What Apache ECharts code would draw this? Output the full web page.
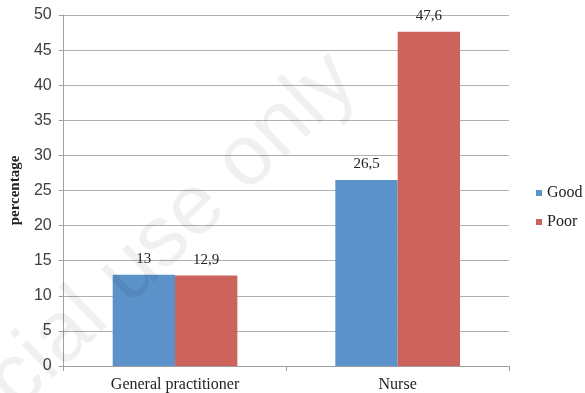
<!DOCTYPE html>
<html>
<head>
<meta charset="utf-8">
<script src="https://cdn.jsdelivr.net/npm/echarts@6/dist/echarts.min.js"></script>
<style>
  html, body { margin: 0; padding: 0; background: #fff; }
  #chart { width: 585px; height: 393px; }
</style>
</head>
<body>
<div id="chart"></div>
<script>
// Share of respondents by professional consulted, split by rating
const categories = ['General practitioner', 'Nurse'];
const goodValues = [13, 26.5];
const poorValues = [12.9, 47.6];
const seriesNames = ['Good', 'Poor'];

const serif = '"Liberation Serif", "DejaVu Serif", serif';
const sans = '"Liberation Sans", "Open Sans", sans-serif';

// Decimal comma for data labels
const fmt = p => String(p.value).replace('.', ',');

const chart = echarts.init(document.getElementById('chart'), null, { renderer: 'canvas' });

const labelStyle = {
  show: true,
  position: 'top',
  distance: 8,
  formatter: fmt,
  fontFamily: serif,
  fontSize: 15,
  color: '#222'
};

chart.setOption({
  animation: false,
  backgroundColor: '#fff',
  grid: { left: 61, right: 76, top: 15, bottom: 27, containLabel: false },
  legend: {
    data: seriesNames,
    orient: 'vertical',
    left: 531,
    top: 180,
    icon: 'rect',
    itemWidth: 6,
    itemHeight: 6,
    itemGap: 13,
    itemStyle: { borderWidth: 0 },
    textStyle: { fontFamily: serif, fontSize: 16, color: '#222' }
  },
  xAxis: {
    type: 'category',
    data: categories,
    axisLine: { lineStyle: { color: '#a0a0a0' } },
    axisTick: { show: true, length: 5, lineStyle: { color: '#a0a0a0' } },
    axisLabel: { fontFamily: serif, fontSize: 16, color: '#222', margin: 11 }
  },
  yAxis: {
    type: 'value',
    min: 0,
    max: 50,
    interval: 5,
    name: 'percentage',
    nameLocation: 'middle',
    nameGap: 34,
    nameTextStyle: { fontFamily: serif, fontSize: 15, fontWeight: 'bold', color: '#222' },
    axisLine: { show: true, lineStyle: { color: '#a0a0a0' } },
    axisTick: { show: true, length: 5, lineStyle: { color: '#a0a0a0' } },
    axisLabel: { fontFamily: sans, fontSize: 16, color: '#404040', margin: 12 },
    splitLine: { lineStyle: { color: '#b0b0b0' } }
  },
  series: [
    {
      name: seriesNames[0],
      type: 'bar',
      data: goodValues,
      barGap: '0%',
      barCategoryGap: '44%',
      itemStyle: { color: '#5b92ca' },
      label: labelStyle
    },
    {
      name: seriesNames[1],
      type: 'bar',
      data: poorValues,
      barGap: '0%',
      barCategoryGap: '44%',
      itemStyle: { color: '#cc635c' },
      label: labelStyle
    }
  ],
  graphic: [
    {
      type: 'text',
      x: 344,
      y: 68,
      rotation: 43.6 * Math.PI / 180,
      z: 100,
      silent: true,
      style: {
        text: 'Non-commercial use only',
        align: 'right',
        verticalAlign: 'middle',
        fontFamily: '"Liberation Sans", sans-serif',
        fontSize: 86,
        fill: 'rgba(0,0,0,0.06)'
      }
    }
  ]
});
</script>
</body>
</html>
